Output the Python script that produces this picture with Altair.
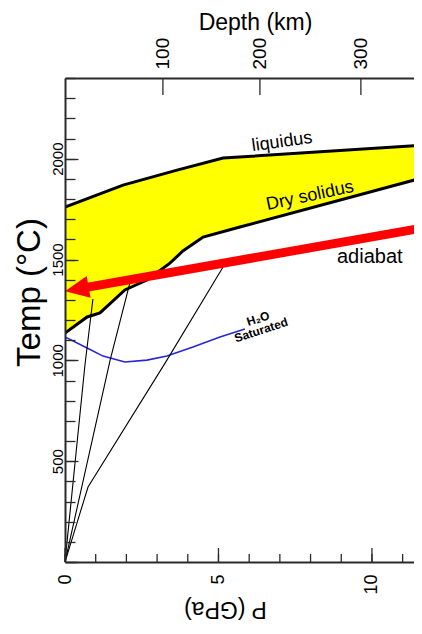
import altair as alt
import pandas as pd

# ---- values: pressure P (GPa), temperature T (°C) ----
liq_P = [0.0, 1.89, 3.65, 5.15, 11.63]
liq_T = [1760, 1869, 1943, 2003, 2067]

sol_P = [0.0, 0.72, 1.14, 1.95, 2.67, 3.42, 3.84, 4.50, 5.70, 11.63]
sol_T = [1135, 1215, 1235, 1349, 1398, 1482, 1542, 1611, 1661, 1904]

wet_P = [0.0, 0.72, 1.24, 1.95, 2.67, 3.32, 4.17, 5.05, 5.86]
wet_T = [1116, 1061, 1021, 992, 1001, 1021, 1066, 1116, 1155]

geo_id = ["a", "a", "a", "b", "b", "b", "c", "c", "c", "c"]
geo_P = [0.0, 0.65, 0.91, 0.0, 1.47, 2.12, 0.0, 0.75, 3.32, 5.15]
geo_T = [0, 977, 1304, 0, 1001, 1388, 0, 372, 1001, 1463]

adiabat_P = [0.7, 11.63]
adiabat_T = [1362, 1656]
arrow_tip_P = [0.0]
arrow_tip_T = [1343]

lab_text = ["liquidus", "Dry solidus", "adiabat", "H\u2082O", "Saturated"]
lab_P = [7.07, 7.98, 9.93, 6.29, 6.39]
lab_T = [2082, 1815, 1512, 1207, 1150]

depth_km = [100, 200, 300]
depth_P = [3.19, 6.35, 9.64]

x_minor = list(range(0, 12))
x_major = [0, 5, 10]
y_minor = list(range(0, 2401, 100))
y_major = [0, 500, 1000, 1500, 2000]
y_labels = [500, 1000, 1500, 2000]

# ---- tables ----
liq = pd.DataFrame({"P": liq_P, "T": liq_T})
sol = pd.DataFrame({"P": sol_P, "T": sol_T})
wet = pd.DataFrame({"P": wet_P, "T": wet_T})
geo = pd.DataFrame({"id": geo_id, "P": geo_P, "T": geo_T})
adi = pd.DataFrame({"P": adiabat_P, "T": adiabat_T})
tip = pd.DataFrame({"P": arrow_tip_P, "T": arrow_tip_T})
labs = pd.DataFrame({"label": lab_text, "P": lab_P, "T": lab_T})

W, H = 349, 484
FONT = "Liberation Sans"
INK = "#2a2a2a"
XS = alt.Scale(domain=[0, 11.37], nice=False, zero=False)
YS = alt.Scale(domain=[0, 2400], nice=False, zero=False)


def xe(axis=None):
    return alt.X("P:Q", scale=XS, axis=axis)


def ye(axis=None):
    return alt.Y("T:Q", scale=YS, axis=axis)


# left tick-only axes placed on the opposite edge so that their ticks point inward
tick_style = dict(zindex=1, grid=False, title=None, labels=False, domain=False,
                  tickColor=INK, tickWidth=1.3)
ax_y_minor = alt.Axis(orient="right", offset=-W, values=y_minor, tickSize=10, **tick_style)
ax_y_major = alt.Axis(orient="right", offset=-W, values=y_major, tickSize=13, **tick_style)

lab_style = dict(ticks=False, grid=False, zindex=1, domain=True, domainColor=INK,
                 domainWidth=2, labelFont=FONT, labelColor="black", labelFlush=False,
                 labelOverlap=False, titleFont=FONT, titleFontWeight="normal",
                 titleColor="black", titleAlign="center")

ax_x_lab = alt.Axis(orient="bottom", values=x_major, labelAngle=270, labelAlign="right",
                    labelBaseline="middle", labelPadding=12, labelFontSize=18,
                    title="P (GPa)", titleAngle=180, titleX=160, titleY=46,
                    titleBaseline="middle", titleFontSize=23, **lab_style)

ax_y_lab = alt.Axis(orient="left", values=y_labels, format="d", labelAngle=270,
                    labelAlign="center", labelBaseline="alphabetic", labelPadding=3,
                    labelFontSize=15,
                    title="Temp (\u00b0C)", titleAngle=270, titleX=-36, titleY=214,
                    titleBaseline="middle", titleFontSize=33, **lab_style)

depth_expr = "".join(
    f"abs(datum.value - {p}) < 0.01 ? '{d}' : " for p, d in zip(depth_P, depth_km)
) + "''"
ax_top_lab = alt.Axis(orient="top", values=depth_P, labelExpr=depth_expr, labelAngle=270,
                      labelAlign="left", labelBaseline="middle", labelPadding=9,
                      labelFontSize=19,
                      title="Depth (km)", titleX=190, titleY=-67, titleBaseline="top",
                      titleFontSize=23, **lab_style)

yellow = alt.Chart(liq).mark_area(color="#ffff00", opacity=1, clip=True).encode(
    x=xe(), y=ye(ax_y_minor))
white = alt.Chart(sol).mark_area(color="white", opacity=1, clip=True).encode(
    x=xe(), y=ye(ax_y_major))
liq_line = alt.Chart(liq).mark_line(color="black", strokeWidth=3, clip=True).encode(
    x=xe(ax_x_lab), y=ye(ax_y_lab))
sol_line = alt.Chart(sol).mark_line(color="black", strokeWidth=3, clip=True).encode(
    x=xe(), y=ye())
wet_line = alt.Chart(wet).mark_line(color="#2626d9", strokeWidth=1.6, clip=True).encode(
    x=xe(ax_top_lab), y=ye())
geo_lines = alt.Chart(geo).mark_line(color="black", strokeWidth=1.1, clip=True).encode(
    x=xe(), y=ye(), detail="id:N")
shaft = alt.Chart(adi).mark_line(color="#ff0000", strokeWidth=9, clip=True,
                                 strokeCap="butt").encode(x=xe(), y=ye())
head = alt.Chart(tip).mark_point(shape="M0,0L2,-0.92L2,0.92Z", size=576, filled=True,
                                 color="#ff0000", opacity=1, strokeWidth=0,
                                 angle=350).encode(x=xe(), y=ye())

# inward-pointing tick marks of the bottom (P) and top (depth) axes
bot_minor = alt.Chart(pd.DataFrame({"P": x_minor})).mark_rule(
    color=INK, strokeWidth=1.3).encode(x=xe(), y=alt.value(H), y2=alt.value(H - 8))
bot_major = alt.Chart(pd.DataFrame({"P": x_major})).mark_rule(
    color=INK, strokeWidth=1.3).encode(x=xe(), y=alt.value(H), y2=alt.value(H - 14))
top_ticks = alt.Chart(pd.DataFrame({"P": depth_P})).mark_rule(
    color=INK, strokeWidth=1.3).encode(x=xe(), y=alt.value(0), y2=alt.value(17))

text_styles = [
    dict(angle=352, fontSize=18),
    dict(angle=348, fontSize=18),
    dict(angle=0, fontSize=20),
    dict(angle=342, fontSize=12, fontWeight="bold"),
    dict(angle=342, fontSize=12, fontWeight="bold"),
]
texts = []
for i, st in enumerate(text_styles):
    texts.append(
        alt.Chart(labs.iloc[[i]]).mark_text(font=FONT, color="black", align="center",
                                            baseline="middle", **st)
        .encode(x=xe(), y=ye(), text="label:N")
    )

chart = (
    alt.layer(yellow, white, liq_line, sol_line, wet_line, geo_lines, shaft, head,
              bot_minor, bot_major, top_ticks, *texts)
    .resolve_axis(x="independent", y="independent")
    .properties(width=W, height=H,
                autosize=alt.AutoSizeParams(type="none"),
                padding={"left": 57, "top": 70, "right": 0, "bottom": 64},
                background="white")
    .configure_view(strokeWidth=0)
)

chart.save("out.html", embed_options={"renderer": "svg", "actions": False})
